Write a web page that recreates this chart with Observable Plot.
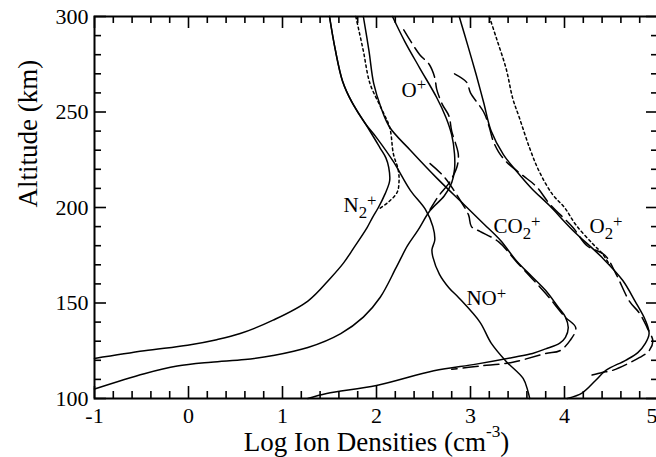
<!DOCTYPE html>
<html><head><meta charset="utf-8">
<script src="https://cdn.jsdelivr.net/npm/d3@7"></script>
<script src="https://cdn.jsdelivr.net/npm/@observablehq/plot@0.6"></script>
<style>html,body{margin:0;padding:0;overflow:hidden;background:#fff}</style>
</head><body><div id="chart"></div>
<script>
// ---- data (altitude km, log10 ion density cm^-3) ----
const n2pAlt = [300, 283, 266, 255, 244, 236, 231, 226, 221, 214, 207, 200, 195, 189.5, 179, 171, 163, 151, 141, 134, 130.8, 127.9, 125, 121];
const n2pLog = [1.50, 1.56, 1.64, 1.74, 1.88, 1.98, 2.04, 2.10, 2.13, 2.14, 2.09, 2.02, 1.96, 1.90, 1.76, 1.65, 1.51, 1.27, 0.90, 0.55, 0.30, -0.01, -0.47, -1.0];
const n2pDotAlt = [300, 282, 265, 252, 242, 228, 220, 214, 208, 203, 199];
const n2pDotLog = [1.78, 1.86, 1.93, 2.05, 2.14, 2.18, 2.23, 2.24, 2.22, 2.13, 2.02];

const nopAlt = [300, 283, 266, 255, 244, 236.6, 224, 209, 199, 190, 183, 178, 174, 165, 158, 152.5, 140, 129, 119.4, 110.5, 104, 100];
const nopLog = [1.50, 1.56, 1.64, 1.74, 1.88, 2.0, 2.18, 2.36, 2.52, 2.60, 2.62, 2.59, 2.60, 2.67, 2.77, 2.88, 3.10, 3.22, 3.38, 3.56, 3.61, 3.63];

const opAlt = [300, 287, 273, 257.6, 247, 238, 228, 220, 213, 206, 198.4, 188, 180, 168.6, 153, 142.6, 134, 126.7, 122.5, 120.4, 119, 117, 113, 105];
const opLog = [2.17, 2.30, 2.46, 2.64, 2.74, 2.80, 2.83, 2.83, 2.80, 2.72, 2.57, 2.44, 2.33, 2.21, 2.04, 1.86, 1.62, 1.27, 0.90, 0.60, 0.24, -0.12, -0.47, -1.0];
const opDashAlt = [293, 280, 275, 268, 262, 254, 248, 240, 228, 222, 216, 212, 206, 199];
const opDashLog = [2.29, 2.46, 2.56, 2.62, 2.64, 2.70, 2.77, 2.80, 2.87, 2.86, 2.81, 2.76, 2.66, 2.57];

const co2pAlt = [300, 282, 265, 252, 242, 230, 215, 201.6, 191, 182.7, 172, 164, 156.5, 148, 142.6, 137, 132, 129, 126, 123.6, 121.5, 118, 114.5, 106.8, 102.6, 100];
const co2pLog = [1.86, 1.92, 1.97, 2.05, 2.14, 2.36, 2.65, 2.93, 3.15, 3.32, 3.49, 3.65, 3.80, 3.93, 4.01, 4.04, 4.01, 3.95, 3.80, 3.66, 3.45, 3.06, 2.61, 2.0, 1.47, 1.27];
const co2pDashAlt = [223, 216, 203, 196, 190, 187.5, 182, 171, 155, 143, 137, 130.4, 125, 123.6, 119, 117, 115.3];
const co2pDashLog = [2.57, 2.72, 2.90, 2.98, 3.01, 3.10, 3.30, 3.50, 3.80, 4.00, 4.12, 4.06, 3.95, 3.80, 3.45, 3.10, 2.80];

const o2pAlt = [300, 285, 269.6, 255, 240, 227.7, 219, 210, 201, 188, 173.8, 161.8, 151, 141, 134, 128.8, 124, 120, 114.7, 109.4, 103, 100];
const o2pLog = [2.88, 2.97, 3.06, 3.14, 3.22, 3.35, 3.49, 3.65, 3.84, 4.09, 4.40, 4.62, 4.75, 4.86, 4.90, 4.86, 4.78, 4.65, 4.44, 4.33, 4.19, 4.03];
const o2pDotAlt = [300, 288, 272.5, 257, 247, 231, 219, 207, 200, 191, 181, 176, 170];
const o2pDotLog = [3.20, 3.28, 3.38, 3.45, 3.52, 3.63, 3.73, 3.87, 4.0, 4.12, 4.30, 4.40, 4.48];
const o2pDashAlt = [270, 265.5, 260, 250, 242, 235, 229, 224, 217, 211, 202, 189.5, 180, 175, 165, 151, 144.5, 137, 130, 125, 121.5, 114.7, 113.6, 112];
const o2pDashLog = [2.83, 2.96, 3.00, 3.14, 3.20, 3.24, 3.30, 3.38, 3.55, 3.70, 3.84, 4.09, 4.24, 4.43, 4.55, 4.69, 4.80, 4.88, 4.94, 4.90, 4.80, 4.51, 4.40, 4.27];

const labelText = ["O^+", "N_2^+", "CO_2^+", "O_2^+", "NO^+"];
const labelLog = [2.266, 1.649, 3.245, 4.266, 2.957];
const labelAlt = [258.1, 197.4, 186.4, 186.4, 148.7];

const xMajor = [-1, 0, 1, 2, 3, 4, 5];
const yMajor = [100, 150, 200, 250, 300];
const xMinor = d3.range(-1, 5.001, 0.2).map(v => +v.toFixed(1)).filter(v => !xMajor.includes(v));
const yMinor = d3.range(100, 301, 10).filter(v => !yMajor.includes(v));
const xTitle = "Log Ion Densities (cm^{-3})";
const yTitle = "Altitude (km)";

// ---- build table ----
const series = [
  ["N2+", n2pAlt, n2pLog, "solid"], ["N2+ dot", n2pDotAlt, n2pDotLog, "dot"],
  ["NO+", nopAlt, nopLog, "solid"],
  ["O+", opAlt, opLog, "solid"], ["O+ dash", opDashAlt, opDashLog, "dash"],
  ["CO2+", co2pAlt, co2pLog, "solid"], ["CO2+ dash", co2pDashAlt, co2pDashLog, "dash"],
  ["O2+", o2pAlt, o2pLog, "solid"], ["O2+ dot", o2pDotAlt, o2pDotLog, "dot"], ["O2+ dash", o2pDashAlt, o2pDashLog, "dash"]
];
const rows = series.flatMap(([id, alt, lg, kind]) => alt.map((a, i) => ({id, kind, alt: a, log: lg[i]})));
const labels = labelText.map((t, i) => ({t, x: labelLog[i], y: labelAlt[i]}));

const W = 656, H = 457, mL = 94, mT = 16, mB = 59, mR = -2;
const pw = W - mL - mR, ph = H - mT - mB;
const font = "'Liberation Serif', 'Times New Roman', Times, serif";
const tickFont = 22;

const lineOpts = {x: "log", y: "alt", z: "id", curve: "catmull-rom", stroke: "black", strokeWidth: 1.5};

const chart = Plot.plot({
  width: W, height: H,
  marginLeft: mL, marginTop: mT, marginBottom: mB, marginRight: mR,
  x: {domain: [-1, 5]},
  y: {domain: [100, 300]},
  style: {fontFamily: font, fontWeight: "normal", background: "white", overflow: "hidden"},
  marks: [
    Plot.line(rows.filter(d => d.kind === "solid"), lineOpts),
    Plot.line(rows.filter(d => d.kind === "dash"), {...lineOpts, strokeDasharray: "15,6"}),
    Plot.line(rows.filter(d => d.kind === "dot"), {...lineOpts, strokeDasharray: "2.5,3"}),
    // inward ticks on all four sides
    Plot.tickX(xMajor, {x: d => d, insetTop: ph - 12, strokeWidth: 1.6}),
    Plot.tickX(xMajor, {x: d => d, insetBottom: ph - 12, strokeWidth: 1.6}),
    Plot.tickX(xMinor, {x: d => d, insetTop: ph - 7, strokeWidth: 1.6}),
    Plot.tickX(xMinor, {x: d => d, insetBottom: ph - 7, strokeWidth: 1.6}),
    Plot.tickY(yMajor, {y: d => d, insetRight: pw - 12, strokeWidth: 1.6}),
    Plot.tickY(yMajor, {y: d => d, insetLeft: pw - 12, strokeWidth: 1.6}),
    Plot.tickY(yMinor, {y: d => d, insetRight: pw - 7, strokeWidth: 1.6}),
    Plot.tickY(yMinor, {y: d => d, insetLeft: pw - 7, strokeWidth: 1.6}),
    Plot.axisX({ticks: xMajor.slice(0, -1), tickSize: 0, tickPadding: 9, fontSize: tickFont, label: null, tickFormat: d => String(d)}),
    Plot.text(xMajor.slice(-1), {x: d => d, text: d => String(d), frameAnchor: "bottom", lineAnchor: "top", dy: 9, textAnchor: "end", dx: -1, fontSize: tickFont, fill: "black"}),
    Plot.axisY({ticks: yMajor, tickSize: 0, tickPadding: 6, fontSize: tickFont, label: null, tickFormat: d => String(d)}),
    Plot.frame({stroke: "black", strokeWidth: 2}),
    Plot.text(labels, {x: "x", y: "y", text: "t", textAnchor: "start", lineAnchor: "bottom", fontSize: 21, fill: "black"}),
    Plot.text([xTitle], {text: d => d, frameAnchor: "bottom", dy: 52, lineAnchor: "bottom", fontSize: 27, fill: "black"}),
    Plot.text([yTitle], {text: d => d, frameAnchor: "left", dx: -58, rotate: -90, lineAnchor: "bottom", fontSize: 27, fontWeight: "normal", fill: "black"})
  ]
});
document.getElementById("chart").appendChild(chart);

// ---- render ^sup and _sub as real tspans ----
function parseRich(s) {
  const out = []; let i = 0;
  while (i < s.length) {
    const c = s[i];
    if (c === "^" || c === "_") {
      let content;
      if (s[i + 1] === "{") { const j = s.indexOf("}", i + 2); content = s.slice(i + 2, j); i = j + 1; }
      else { content = s[i + 1]; i += 2; }
      out.push({t: content, k: c === "^" ? "sup" : "sub"});
    } else {
      let j = i; while (j < s.length && s[j] !== "^" && s[j] !== "_") j++;
      out.push({t: s.slice(i, j), k: "n"}); i = j;
    }
  }
  return out;
}
chart.querySelectorAll("text").forEach(t => {
  const s = t.textContent;
  if (!/[\^_]/.test(s)) return;
  const fs = parseFloat(getComputedStyle(t).fontSize);
  const big = fs > 23;
  const supShift = big ? -0.5 * fs : -0.33 * fs;
  const subShift = 0.24 * fs;
  const scale = big ? 0.64 : 0.8;
  const parts = parseRich(s);
  while (t.firstChild) t.removeChild(t.firstChild);
  let cur = 0;
  for (const p of parts) {
    const ts = document.createElementNS("http://www.w3.org/2000/svg", "tspan");
    const target = p.k === "sup" ? supShift : p.k === "sub" ? subShift : 0;
    if (target !== cur) ts.setAttribute("dy", (target - cur).toFixed(2));
    cur = target;
    if (p.k !== "n") ts.setAttribute("font-size", (fs * scale).toFixed(2));
    ts.textContent = p.t;
    t.appendChild(ts);
  }
});
</script>
</body></html>
